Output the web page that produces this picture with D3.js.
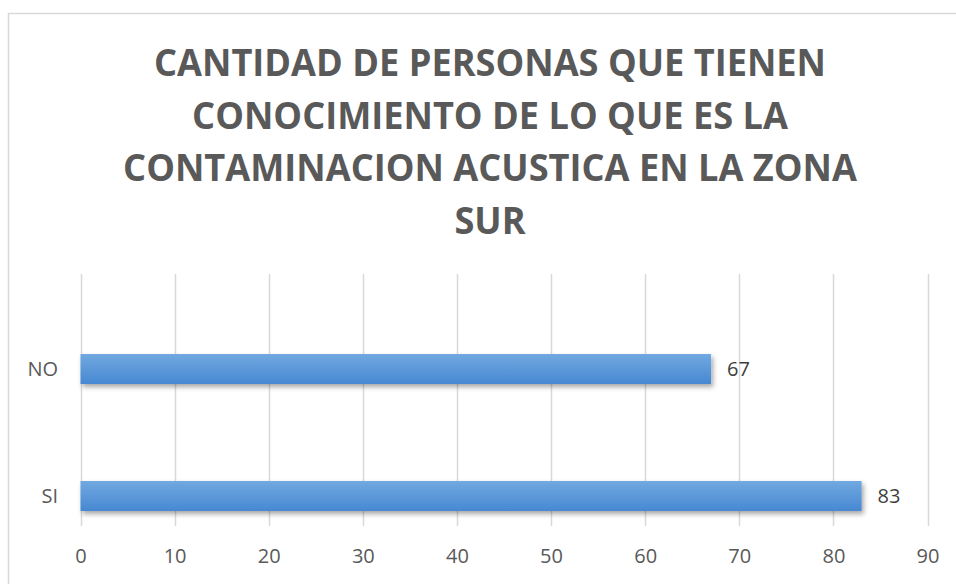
<!DOCTYPE html>
<html>
<head>
<meta charset="utf-8">
<style>
  body { margin: 0; background: #fff; }
  svg { display: block; }
</style>
</head>
<body>
<svg width="956" height="584"></svg>
<script src="https://d3js.org/d3.v7.min.js"></script>
<script>
var categories = ["NO", "SI"];
var values = [67, 83];
var ticks = [0, 10, 20, 30, 40, 50, 60, 70, 80, 90];
var titleLines = [
  "CANTIDAD DE PERSONAS QUE TIENEN",
  "CONOCIMIENTO DE LO QUE ES LA",
  "CONTAMINACION ACUSTICA EN LA ZONA",
  "SUR"
];

var svg = d3.select("svg"),
    width = +svg.attr("width"),
    height = +svg.attr("height");

var textColor = "#595959";

// chart frame (runs off the right and bottom edge)
svg.append("rect")
    .attr("x", 8.5).attr("y", 13.5)
    .attr("width", 1000).attr("height", 1000)
    .attr("fill", "#fff")
    .attr("stroke", "#d9d9d9")
    .attr("stroke-width", 1.5);

var defs = svg.append("defs");
var grad = defs.append("linearGradient")
    .attr("id", "barGrad")
    .attr("x1", 0).attr("y1", 0).attr("x2", 0).attr("y2", 1);
grad.append("stop").attr("offset", "0%").attr("stop-color", "#71a9e0");
grad.append("stop").attr("offset", "100%").attr("stop-color", "#4788d2");

var shadow = defs.append("filter")
    .attr("id", "shadow")
    .attr("x", "-5%").attr("y", "-30%")
    .attr("width", "110%").attr("height", "180%");
shadow.append("feDropShadow")
    .attr("dx", 2).attr("dy", 3)
    .attr("stdDeviation", 2.5)
    .attr("flood-color", "#000")
    .attr("flood-opacity", 0.35);

// title
var title = svg.append("g")
    .attr("font-family", "'Open Sans', sans-serif")
    .attr("font-weight", "bold")
    .attr("font-size", 38)
    .attr("fill", textColor)
    .attr("text-anchor", "middle");

var titleText = title.selectAll("text")
  .data(titleLines)
  .enter().append("text")
    .attr("x", 490)
    .attr("y", function(d, i) { return 76 + i * 52.5; })
    .text(function(d) { return d; });

// squeeze to match the narrower original face
var firstW = titleText.node().getComputedTextLength();
var squeeze = 672 / firstW;
titleText.each(function() {
  var w = this.getComputedTextLength();
  d3.select(this)
      .attr("textLength", w * squeeze)
      .attr("lengthAdjust", "spacingAndGlyphs");
});

// scales
var x = d3.scaleLinear()
    .domain([0, 90])
    .range([80.5, 927.5]);

var y = d3.scalePoint()
    .domain(categories)
    .range([369, 496]);

var barH = 30;
var plotTop = 274, plotBottom = 526;

// gridlines
svg.append("g")
  .selectAll("line")
  .data(ticks)
  .enter().append("line")
    .attr("x1", function(d) { return Math.round(x(d)) + 0.5; })
    .attr("x2", function(d) { return Math.round(x(d)) + 0.5; })
    .attr("y1", plotTop)
    .attr("y2", plotBottom)
    .attr("stroke", "#d9d9d9")
    .attr("stroke-width", 1.5);

// bars
svg.append("g")
  .selectAll("rect")
  .data(categories)
  .enter().append("rect")
    .attr("x", x(0))
    .attr("y", function(d) { return y(d) - barH / 2; })
    .attr("width", function(d, i) { return x(values[i]) - x(0); })
    .attr("height", barH)
    .attr("fill", "url(#barGrad)")
    .attr("filter", "url(#shadow)");

var labelFont = "'Open Sans', sans-serif";

// value labels
svg.append("g")
  .selectAll("text")
  .data(categories)
  .enter().append("text")
    .attr("x", function(d, i) { return x(values[i]) + 16; })
    .attr("y", function(d) { return y(d); })
    .attr("dy", "0.36em")
    .attr("font-family", labelFont)
    .attr("font-size", 20)
    .attr("fill", "#404040")
    .text(function(d, i) { return values[i]; });

// category axis labels
svg.append("g")
  .selectAll("text")
  .data(categories)
  .enter().append("text")
    .attr("x", 58)
    .attr("y", function(d) { return y(d); })
    .attr("dy", "0.36em")
    .attr("text-anchor", "end")
    .attr("font-family", labelFont)
    .attr("font-size", 20)
    .attr("fill", textColor)
    .text(function(d) { return d; });

// value axis tick labels
var xAxis = svg.append("g")
    .attr("transform", "translate(0," + 549 + ")")
    .call(d3.axisBottom(x).tickValues(ticks).tickSize(0).tickPadding(0));
xAxis.select(".domain").remove();
xAxis.selectAll("text")
    .attr("font-family", labelFont)
    .attr("font-size", 20)
    .attr("fill", textColor)
    .attr("dy", "0.71em");
</script>
</body>
</html>
